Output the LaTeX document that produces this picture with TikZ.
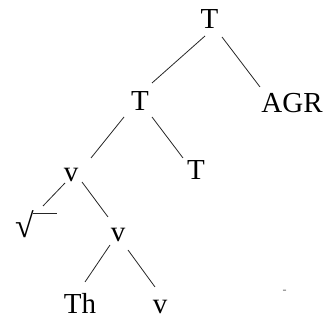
\documentclass[tikz,border=0pt]{standalone}
\usepackage{fontspec}
\setmainfont{Liberation Serif}
\tikzset{
  lbl/.style={anchor=base, inner sep=0pt, font=\fontsize{29}{34}\selectfont},
  edge/.style={line width=0.8pt, black!85}
}
\begin{document}
\begin{tikzpicture}[x=1pt,y=1pt]
\useasboundingbox (0,0) rectangle (327,-320);
\node[lbl] (T0) at (209.5,-29) {T};
\node[lbl] (T1) at (140,-111) {T};
\node[lbl] (AGR) at (292,-113) {AGR};
\node[lbl] (v1) at (71,-182) {v};
\node[lbl] (T2) at (196,-180) {T};
\node[lbl] (v2) at (118,-242) {v};
\node[lbl] (Th) at (80,-314) {Th};
\node[lbl] (v3) at (160,-314) {v};
\node[anchor=north east, inner sep=0pt, font=\fontsize{34}{40}\selectfont\bfseries] (rt) at (34,-210) {√};
\coordinate (barend) at (57,-213);
\node[inner sep=0pt, font=\fontsize{12}{14}\selectfont, black!60] (dash) at (284.5,-292) {-};
\draw[edge] ([shift={(-4.5,-7)}]T0.base) -- ([shift={(12,28)}]T1.base);
\draw[edge] ([shift={(12.5,-8)}]T0.base) -- ([shift={(-32,26)}]AGR.base);
\draw[edge] ([shift={(-16,-6)}]T1.base) -- ([shift={(20,24)}]v1.base);
\draw[edge] ([shift={(12,-6)}]T1.base) -- ([shift={(-13,22)}]T2.base);
\draw[edge] ([shift={(-6,-1)}]v1.base) -- ([shift={(9,4)}]rt.north east);
\draw[edge] ([shift={(-1,-3)}]rt.north east) -- (barend);
\draw[edge] ([shift={(11,0)}]v1.base) -- ([shift={(-10,25)}]v2.base);
\draw[edge] ([shift={(-8,-3)}]v2.base) -- ([shift={(5,32)}]Th.base);
\draw[edge] ([shift={(10,-8)}]v2.base) -- ([shift={(-5,27)}]v3.base);
\end{tikzpicture}
\end{document}
